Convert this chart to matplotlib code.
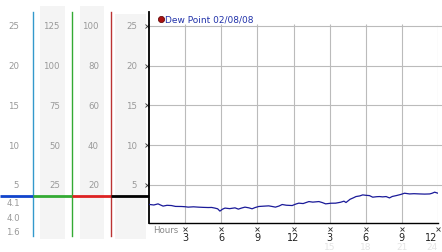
import matplotlib
matplotlib.use("Agg")
import matplotlib.pyplot as plt
from matplotlib.patches import Rectangle
from matplotlib.transforms import blended_transform_factory

# dew point trace, hours since start / value
hours = [0.06, 0.4, 0.75, 1.0, 1.17, 1.5, 1.86, 2.2, 2.69, 3.0, 3.25, 3.7, 4.08,
         4.5, 4.92, 5.2, 5.47, 5.7, 5.89, 6.1, 6.31, 6.7, 7.14, 7.42, 7.7, 7.97,
         8.3, 8.56, 8.8, 9.11, 9.5, 9.94, 10.2, 10.5, 10.8, 11.06, 11.4, 11.89,
         12.2, 12.44, 12.8, 13.28, 13.6, 14.11, 14.4, 14.67, 15.1, 15.5, 15.9,
         16.19, 16.36, 16.7, 17.0, 17.19, 17.5, 17.75, 18.0, 18.31, 18.58, 18.9,
         19.14, 19.4, 19.69, 19.97, 20.2, 20.53, 20.9, 21.22, 21.64, 22.0, 22.47,
         22.9, 23.31, 23.5, 23.72, 24.0]
dew = [2.54, 2.48, 2.62, 2.45, 2.34, 2.44, 2.41, 2.3, 2.29, 2.26, 2.21, 2.25, 2.21,
       2.18, 2.16, 2.17, 2.09, 2.0, 1.71, 1.95, 2.09, 2.02, 2.12, 1.96, 2.1, 2.21,
       2.12, 2.0, 2.15, 2.29, 2.33, 2.37, 2.3, 2.21, 2.35, 2.54, 2.45, 2.41,
       2.6, 2.71, 2.66, 2.91, 2.84, 2.91, 2.78, 2.62, 2.7, 2.71, 2.82,
       2.96, 2.79, 3.2, 3.4, 3.54, 3.62, 3.75, 3.7, 3.66, 3.46, 3.52,
       3.54, 3.5, 3.54, 3.37, 3.55, 3.66, 3.8, 3.96, 3.87, 3.9, 3.87,
       3.85, 3.87, 3.95, 4.09, 3.96]

ytick_vals = [5, 10, 15, 20, 25]
col_scale = [1, 5, 4, 1]
xtick_vals = [3, 6, 9, 12, 15, 18, 21, 24]
xtick_labels = ["3", "6", "9", "12", "3", "6", "9", "12"]
faint_labels = ["15", "18", "21", "24"]
side_labels = ["4.1", "4.0", "1.6"]
title = "Dew Point 02/08/08"

W, H = 442, 253
fig = plt.figure(figsize=(W / 100, H / 100), dpi=100)

# overlay in pixel coords for the side panels
over = fig.add_axes([0, 0, 1, 1], zorder=0)
over.set_xlim(0, W)
over.set_ylim(H, 0)
over.axis("off")

ax = fig.add_axes([149 / W, 1 - 224 / H, (438 - 149) / W, (224 - 13) / H], zorder=1)
ax.patch.set_alpha(0)
ylo, yhi = (225.7 - 224) / 7.95, (225.7 - 13) / 7.95
ax.set_xlim(0, 24)
ax.set_ylim(ylo, yhi)

# gray bands
for x0, x1, y0 in [(40, 65, 7), (80, 104, 7), (115, 146, 15)]:
    over.add_patch(Rectangle((x0, y0), x1 - x0, 240 - y0, color="#f4f4f4", lw=0))

# column divider lines
for xv, c in [(33, "#3399cc"), (72, "#33aa33"), (111, "#bb3333")]:
    over.plot([xv, xv], [13, 237], color=c, lw=1)

# grid
for v in ytick_vals:
    ax.axhline(v, color="#bbbbbb", lw=0.8, zorder=0, xmax=1.01, clip_on=False)
ax.vlines(xtick_vals, ylo, 25.3, color="#bbbbbb", lw=0.8, zorder=0)

ax.plot(hours, dew, color="#1a1a99", lw=0.9, zorder=3)

# spines
for s in ["top", "right"]:
    ax.spines[s].set_visible(False)
ax.spines["left"].set_linewidth(1.3)
ax.spines["bottom"].set_linewidth(1.0)
ax.set_xticks([])
ax.set_yticks([])

# tiny x tick marks
ax.plot([-0.15] * len(ytick_vals), ytick_vals, "x", ms=2.2, mew=0.6, color="#333333", clip_on=False)
ax.plot(xtick_vals, [ylo - 0.75] * len(xtick_vals), "x", ms=2.2, mew=0.6, color="#333333", clip_on=False)

# column labels
bt = blended_transform_factory(over.transData, ax.transData)
for xr, sc in zip([19, 60, 99, 137], col_scale):
    for v in ytick_vals:
        over.text(xr, v, str(v * sc), transform=bt, ha="right", va="center",
                  fontsize=6.2, color="#999999")

# current value bar
cur = (225.7 - 196.5) / 7.95
for x0, x1, c in [(0, 33, "#1144cc"), (33, 72, "#33aa33"), (72, 111, "#dd2222"), (111, 149, "#000000")]:
    over.plot([x0, x1], [cur, cur], transform=bt, color=c, lw=2, solid_capstyle="butt")

for lab, yp in zip(side_labels, [204, 218.5, 233]):
    over.text(20, yp, lab, ha="right", va="center", fontsize=6.2, color="#999999")

# x labels (last one kept inside the picture)
bx = blended_transform_factory(ax.transData, over.transData)
for i, (xv, lab) in enumerate(zip(xtick_vals, xtick_labels)):
    last = i == len(xtick_vals) - 1
    over.text(xv - (0.02 if last else 0), 238, lab, transform=bx,
              ha="right" if last else "center", va="center", fontsize=7, color="#222222")
for i, (xv, lab) in enumerate(zip(xtick_vals[4:], faint_labels)):
    last = i == len(faint_labels) - 1
    over.text(xv - (0.02 if last else 0), 247.5, lab, transform=bx,
              ha="right" if last else "center", va="center", fontsize=6.5, color="#e4e4e4")
over.text(153, 231, "Hours", ha="left", va="center", fontsize=6.2, color="#888888")

# legend / title
over.plot([161], [20], "o", ms=4.5, color="#aa1111", mec="#550000", mew=0.5)
over.text(165, 20, title, ha="left", va="center", fontsize=6.5, color="#2233aa")

fig.savefig("out.png", dpi=100)
